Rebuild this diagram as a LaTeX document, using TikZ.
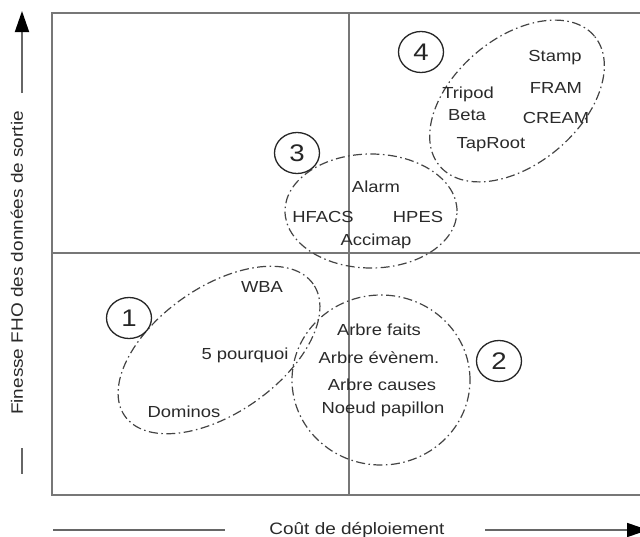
\documentclass[tikz,border=0pt]{standalone}
\usepackage{fontspec}
\setmainfont[FakeStretch=1.15]{Liberation Sans}
\usetikzlibrary{arrows.meta,shapes.geometric}
\definecolor{txt}{HTML}{2A2A2A}
\definecolor{framecol}{HTML}{777777}
\definecolor{ellcol}{HTML}{444444}
\definecolor{axiscol}{HTML}{666666}
\begin{document}
\begin{tikzpicture}[x=1pt,y=-1pt,
  lbl/.style={anchor=base, inner sep=0pt, text=txt, font=\fontsize{16}{19}\selectfont},
  axlbl/.style={anchor=base, inner sep=0pt, text=txt, font=\fontsize{16.5}{19}\selectfont},
  num/.style={ellipse, draw=black!85, line width=1.3pt, inner sep=0pt, minimum width=45pt, minimum height=41pt, text=black!85, font=\fontsize{24}{26}\selectfont},
  grp/.style={ellipse, draw=ellcol, line width=1.2pt, inner sep=0pt, dash pattern=on 9pt off 3.5pt on 1.5pt off 3.5pt},
  axisline/.style={draw=axiscol, line width=1.8pt}
]
\useasboundingbox (0,0) rectangle (640,536);
\clip (0,0) rectangle (640,536);
\fill[white] (0,0) rectangle (640,536);

% frame
\coordinate (ftr) at (648,13);
\coordinate (ftl) at (52,13);
\coordinate (fbl) at (52,495);
\coordinate (fbr) at (648,495);
\coordinate (vt) at (349,13);
\coordinate (vb) at (349,495);
\coordinate (hl) at (52,253);
\coordinate (hr) at (648,253);
\draw[framecol, line width=2.6pt, line join=miter] (ftr) -- (ftl) -- (fbl) -- (fbr);
\draw[framecol, line width=2.6pt] (vt) -- (vb);
\draw[framecol, line width=2.6pt] (hl) -- (hr);

% group ellipses
\node[grp, minimum width=202pt, minimum height=126pt, rotate=40] (g4) at (517,101) {};
\node[grp, minimum width=172pt, minimum height=114pt] (g3) at (371,211) {};
\node[grp, minimum width=230pt, minimum height=126pt, rotate=35] (g1) at (219,350) {};
\node[grp, minimum width=178pt, minimum height=170pt] (g2) at (381,380) {};

% circled numbers
\node[num] (n4) at (421,52) {4};
\node[num] (n3) at (297,153) {3};
\node[num] (n1) at (129,318) {1};
\node[num] (n2) at (499,361) {2};

% labels group 4
\node[lbl] (stamp) at (555,61) {Stamp};
\node[lbl] (fram) at (556,93) {FRAM};
\node[lbl] (cream) at (556,123) {CREAM};
\node[lbl] (tripod) at (468,98) {Tripod};
\node[lbl] (beta) at (467,120) {Beta};
\node[lbl] (taproot) at (491,148) {TapRoot};
% group 3
\node[lbl] (alarm) at (376,192) {Alarm};
\node[lbl] (hfacs) at (323,222) {HFACS};
\node[lbl] (hpes) at (418,222) {HPES};
\node[lbl] (accimap) at (376,245) {Accimap};
% group 1
\node[lbl] (wba) at (262,292) {WBA};
\node[lbl] (pq) at (245,359) {5 pourquoi};
\node[lbl] (dom) at (184,417) {Dominos};
% group 2
\node[lbl] (af) at (379,335) {Arbre faits};
\node[lbl] (ae) at (379,363) {Arbre évènem.};
\node[lbl] (ac) at (382,390) {Arbre causes};
\node[lbl] (np) at (383,413) {Noeud papillon};

% axes
\coordinate (ya1) at (22,93);
\coordinate (ya2) at (22,11);
\coordinate (yb1) at (22,448);
\coordinate (yb2) at (22,474);
\draw[axisline, -{Triangle[length=21pt,width=14pt,color=black]}] (ya1) -- (ya2);
\draw[axisline] (yb1) -- (yb2);
\node[axlbl, rotate=90] (ylab) at (23,263) {Finesse FHO des données de sortie};

\coordinate (xa1) at (53,530);
\coordinate (xa2) at (225,530);
\coordinate (xb1) at (485,530);
\coordinate (xb2) at (648,530);
\draw[axisline] (xa1) -- (xa2);
\draw[axisline, -{Triangle[length=21pt,width=14pt,color=black]}] (xb1) -- (xb2);
\node[axlbl] (xlab) at (357,534) {Coût de déploiement};
\end{tikzpicture}
\end{document}
